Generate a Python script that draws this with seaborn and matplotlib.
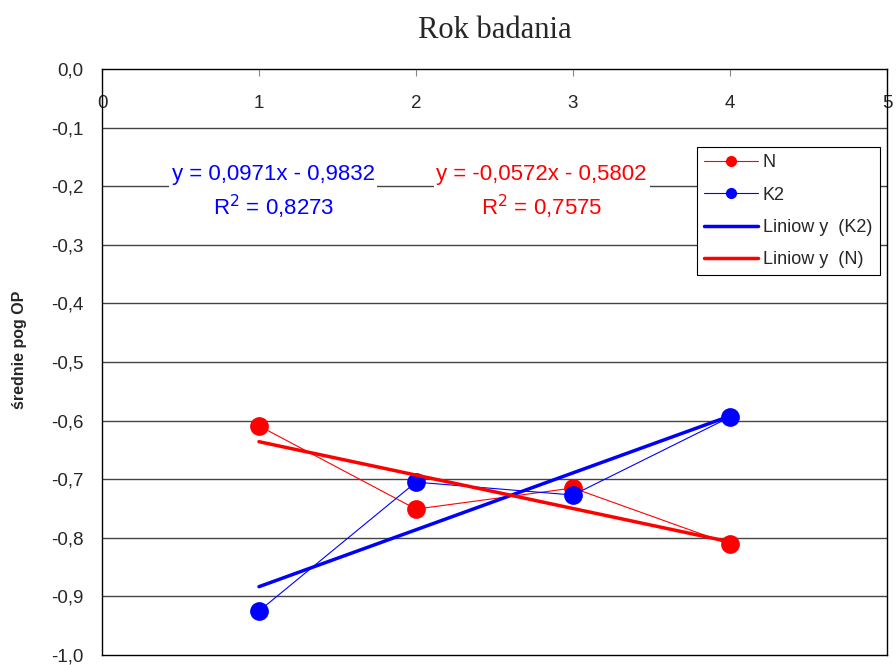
import numpy as np
import pandas as pd
import matplotlib.pyplot as plt
import seaborn as sns
from matplotlib.lines import Line2D

# rok badania and mean values
years = [1, 2, 3, 4]
n_vals = [-0.609, -0.751, -0.715, -0.811]
k2_vals = [-0.925, -0.705, -0.727, -0.594]
series_names = ["N", "K2"]
series_colors = {"N": "#ff0000", "K2": "#0000ff"}
y_ticks = [0.0, -0.1, -0.2, -0.3, -0.4, -0.5, -0.6, -0.7, -0.8, -0.9, -1.0]
x_ticks = [0, 1, 2, 3, 4, 5]
eq_k2 = "y = 0,0971x - 0,9832\nR$^2$ = 0,8273"
eq_n = "y = -0,0572x - 0,5802\nR$^2$ = 0,7575"

df = pd.DataFrame({
    "rok": years * 2,
    "val": n_vals + k2_vals,
    "seria": ["N"] * 4 + ["K2"] * 4,
})

sns.set_style("white")
plt.rcParams["font.family"] = ["Liberation Sans", "DejaVu Sans"]

fig = plt.figure(figsize=(8.96, 6.65), dpi=100)
ax = fig.add_axes([102 / 896, 10 / 665, 785 / 896, 586 / 665])

for y in y_ticks[1:-1]:
    ax.axhline(y, color="#444444", lw=1.0, zorder=0)

sns.lineplot(data=df, x="rok", y="val", hue="seria", hue_order=series_names,
             palette=series_colors, marker="o", markersize=13.5, markeredgewidth=0,
             linewidth=0.8, legend=False, ax=ax, zorder=3)

# linear trend lines
for name, vals in [("K2", k2_vals), ("N", n_vals)]:
    a, b = np.polyfit(years, vals, 1)
    xs = np.array([years[0], years[-1]])
    ax.plot(xs, a * xs + b, color=series_colors[name], lw=2.5, zorder=4,
            solid_capstyle="round")

ax.set_xlim(0, 5)
ax.set_ylim(-1.0, 0.0)
ax.set_yticks(y_ticks)
ax.set_yticklabels([f"{v:.1f}".replace(".", ",") for v in y_ticks], fontsize=13.5)
ax.set_xticks(x_ticks)
ax.set_xticklabels([str(v) for v in x_ticks], fontsize=13.5)
ax.tick_params(axis="x", top=True, bottom=False, labeltop=True, labelbottom=False,
               direction="in", length=5, pad=-31, color="#888888")
ax.tick_params(axis="y", length=0, pad=13.5)
ax.set_xlabel("")
ax.set_ylabel("średnie pog OP", fontsize=11.5, fontweight="bold")
ax.yaxis.set_label_coords(-0.095, 0.52)

for sp in ax.spines.values():
    sp.set_color("black")
    sp.set_linewidth(1.0)

ax.set_title("Rok badania", fontsize=22, family="Liberation Serif", pad=22)

ax.text(1.09, -0.21, eq_k2, color="#0000ff", fontsize=16, ha="center",
        va="center", linespacing=1.35, zorder=5,
        bbox=dict(facecolor="white", edgecolor="none", pad=2))
ax.text(2.80, -0.21, eq_n, color="#ff0000", fontsize=16, ha="center",
        va="center", linespacing=1.35, zorder=5,
        bbox=dict(facecolor="white", edgecolor="none", pad=2))

handles = [
    Line2D([], [], color="#ff0000", lw=0.8, marker="o", markersize=7),
    Line2D([], [], color="#0000ff", lw=0.8, marker="o", markersize=7),
    Line2D([], [], color="#0000ff", lw=2.5),
    Line2D([], [], color="#ff0000", lw=2.5),
]
labels = ["N", "K2", "Liniow y  (K2)", "Liniow y  (N)"]
leg = ax.legend(handles, labels, loc="upper left", bbox_to_anchor=(0.758, 0.867),
                fontsize=13, frameon=True, fancybox=False, edgecolor="black",
                framealpha=1, borderpad=0.4, labelspacing=0.85, handlelength=3.0,
                handletextpad=0.25, borderaxespad=0)
leg.get_frame().set_linewidth(0.8)
leg.set_zorder(6)

plt.savefig("out.png", dpi=100)
